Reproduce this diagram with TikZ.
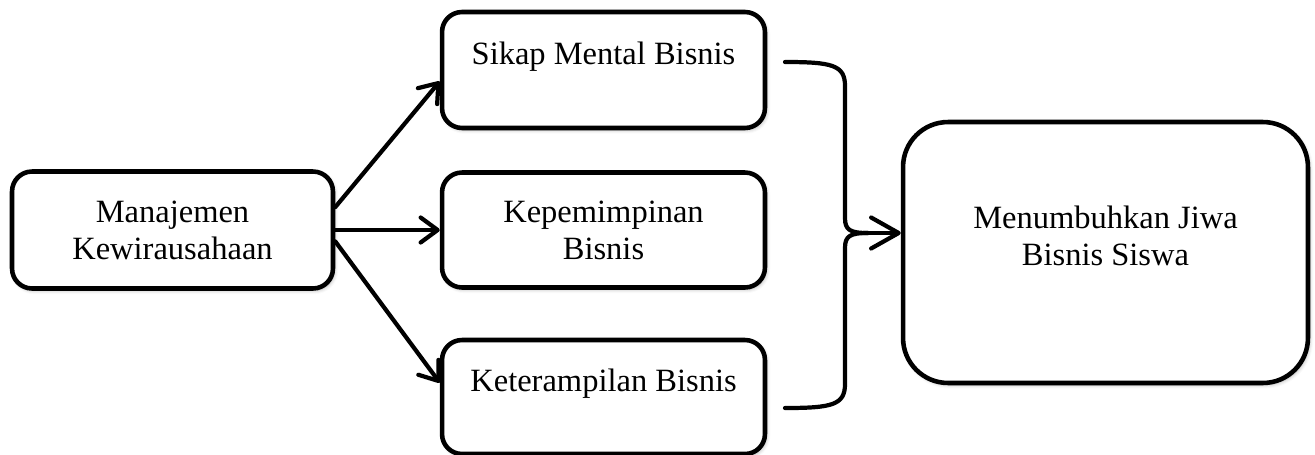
\documentclass[tikz,border=0pt]{standalone}
\usepackage{fontspec}
\setmainfont{Liberation Serif}
\usetikzlibrary{arrows.meta}
\usetikzlibrary{calc}
\usetikzlibrary{shadows.blur}
\tikzset{basic box/.style={draw,
                           fill=white,
                           line width=2.6pt,
                           align=center,
                           inner sep=0pt,
                           font=\fontsize{18.5}{21}\selectfont,
                           blur shadow={shadow xshift=1pt,shadow yshift=-1.2pt,
                                        shadow blur radius=2pt,shadow opacity=30}}}
\tikzset{box/.style={basic box,rounded corners=0.4cm}}
\tikzset{top text/.style={text depth=0.68cm}}
\tikzset{link/.style={draw,
                      line width=2.4pt,
                      line cap=round,
                      -{Straight Barb[round,length=3.4mm,width=5mm]}}}

\begin{document}
\begin{tikzpicture}
  [
    x=0.02cm,y=-0.02cm,
    brace/.style={draw,line width=2.4pt,line cap=round},
  ]
    \useasboundingbox (0,0) rectangle (1315,454);

    % boxes
    \node [box,minimum width=6.42cm,minimum height=2.34cm] (manaj) at (172.5,230)
      {Manajemen\\Kewirausahaan};
    \node [box,top text,minimum width=6.46cm,minimum height=2.32cm] (sikap) at (603.5,70)
      {Sikap Mental Bisnis};
    \node [box,minimum width=6.46cm,minimum height=2.3cm] (kepem) at (603.5,230)
      {Kepemimpinan\\Bisnis};
    \node [box,top text,minimum width=6.46cm,minimum height=2.28cm] (keter) at (603.5,397)
      {Keterampilan Bisnis};
    \node [basic box,rounded corners=0.9cm,text depth=0.68cm,
           minimum width=8.1cm,minimum height=5.22cm] (jiwa) at (1105.5,252.5)
      {Menumbuhkan Jiwa\\Bisnis Siswa};

    % arrows
    \path [link] (manaj.8) -- (sikap.184);
    \path [link] (manaj.east) -- (kepem.west);
    \path [link] (manaj.-4) -- (keter.175);

    % brace
    \coordinate (bT) at (785,62);
    \coordinate (bB) at (785,408);
    \coordinate (bM) at (868,233);
    \path [brace] (bT) .. controls (832,62) and (845,65) .. (845,86)
      -- (845,218) .. controls (845,230) and (850,233) .. (bM);
    \path [brace] (bB) .. controls (832,408) and (845,405) .. (845,384)
      -- (845,248) .. controls (845,236) and (850,233) .. (bM);
    \path [link,-{Straight Barb[round,length=5.5mm,width=6.2mm]}] (bM) -- (bM -| jiwa.west);

  \end{tikzpicture}
\end{document}
